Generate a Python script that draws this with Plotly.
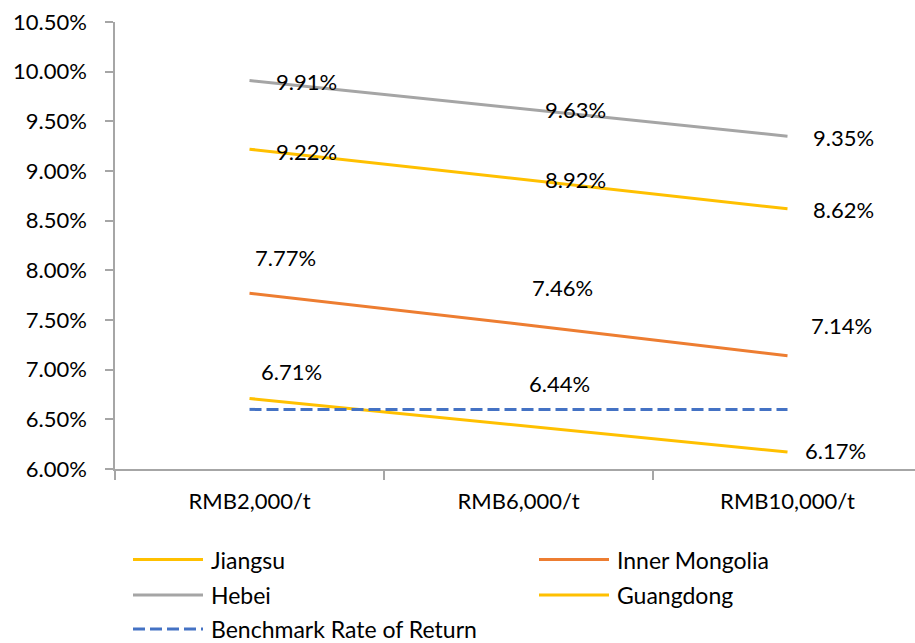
import plotly.graph_objects as go

# Carbon price scenarios (x categories)
categories = ["RMB2,000/t", "RMB6,000/t", "RMB10,000/t"]

# Rate of return by province, in percent
jiangsu = [9.22, 8.92, 8.62]
inner_mongolia = [7.77, 7.46, 7.14]
hebei = [9.91, 9.63, 9.35]
guangdong = [6.71, 6.44, 6.17]
benchmark = [6.60, 6.60, 6.60]

y_ticks = [6.0, 6.5, 7.0, 7.5, 8.0, 8.5, 9.0, 9.5, 10.0, 10.5]

FONT = "Lato"
FS = 22

# name, values, colour, dash, label offsets (dx, dy) in px per point (None = no labels)
series = [
    ("Jiangsu", jiangsu, "#FFC000", "solid", [(24, -2), (24, -1), (23, -1)]),
    ("Inner Mongolia", inner_mongolia, "#ED7D31", "solid", [(3, 36), (11, 36), (21, 30)]),
    ("Hebei", hebei, "#A5A5A5", "solid", [(24, -1), (24, -1), (23, -1)]),
    ("Guangdong", guangdong, "#FFC000", "solid", [(9, 27), (8, 42), (15, 2)]),
    ("Benchmark Rate of Return", benchmark, "#4472C4", "12px,5px", None),
]

fig = go.Figure()
for name, vals, color, dash, offs in series:
    fig.add_trace(go.Scatter(
        x=categories, y=vals, mode="lines", name=name,
        line=dict(color=color, width=3, dash=dash),
        showlegend=False, hoverinfo="skip",
    ))
    if offs:
        for i, v in enumerate(vals):
            dx, dy = offs[i]
            fig.add_annotation(
                x=i, y=v, xref="x", yref="y", text=f"{v:.2f}%",
                showarrow=False, xanchor="left", yanchor="middle",
                xshift=dx, yshift=dy,
                font=dict(family=FONT, size=FS, color="#000000"),
            )

# Plot-area geometry (px) used to place the legend below the axes
L, R, T, B = 115, 915, 22, 469
W, H = R - L, B - T


def px_x(px):
    return (px - L) / W


def px_y(py):
    return (B - py) / H


legend_slots = [
    (133, 559.5), (539, 559.5),
    (133, 595.0), (539, 595.0),
    (133, 629.0),
]
for slot, (name, _, color, dash, _) in zip(legend_slots, series):
    x0, yy = slot
    fig.add_shape(
        type="line", xref="paper", yref="paper",
        x0=px_x(x0), x1=px_x(x0 + 70), y0=px_y(yy), y1=px_y(yy),
        line=dict(color=color, width=3, dash=dash),
    )
    fig.add_annotation(
        x=px_x(x0 + 76), y=px_y(yy), xref="paper", yref="paper",
        text=name, showarrow=False, xanchor="left", yanchor="middle",
        font=dict(family=FONT, size=23, color="#000000"),
    )

fig.update_layout(
    width=915, height=643,
    margin=dict(l=L, r=915 - R, t=T, b=643 - B),
    paper_bgcolor="white", plot_bgcolor="white",
    font=dict(family=FONT, size=FS, color="#000000"),
    showlegend=False,
)
fig.update_xaxes(
    type="category", range=[-0.5, -0.5 + W / 269.0],
    showline=True, linecolor="#A6A6A6", linewidth=1.5,
    ticks="outside", tickson="boundaries", ticklen=9, tickcolor="#A6A6A6", tickwidth=1.5,
    ticklabelstandoff=12, showgrid=False, zeroline=False,
    tickfont=dict(family=FONT, size=FS, color="#000000"),
)
fig.update_yaxes(
    range=[6.0, 10.5], tickvals=y_ticks,
    ticktext=[f"{t:.2f}%" for t in y_ticks],
    showline=True, linecolor="#A6A6A6", linewidth=1.5,
    ticks="outside", ticklen=8, tickcolor="#A6A6A6", tickwidth=1.5,
    ticklabelstandoff=14, showgrid=False, zeroline=False,
    tickfont=dict(family=FONT, size=FS, color="#000000"),
)

fig.write_html("out.html")
